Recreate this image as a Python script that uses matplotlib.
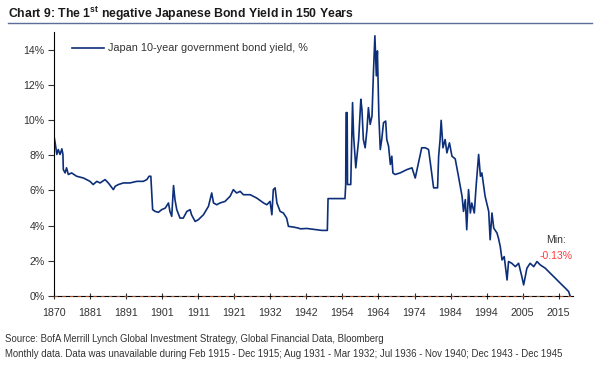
import matplotlib
matplotlib.use('Agg')
import matplotlib.pyplot as plt

# x positions are in tick-spacing units (the chart's axis is observation based)
years = ['1870', '1881', '1891', '1901', '1911', '1921', '1932', '1942',
         '1954', '1964', '1974', '1984', '1994', '2005', '2015']

pos = [0.00, 0.03, 0.07, 0.11, 0.16, 0.21, 0.24, 0.25, 0.30, 0.34, 0.39, 0.48,
       0.62, 0.81, 0.99, 1.08, 1.18, 1.27, 1.41, 1.50, 1.64, 1.69, 1.78, 1.92,
       2.10, 2.29, 2.47, 2.57, 2.63, 2.68, 2.73, 2.80, 2.89, 2.98, 3.08, 3.17,
       3.21, 3.26, 3.31, 3.35, 3.40, 3.49, 3.58, 3.68, 3.77, 3.81, 3.91, 4.00,
       4.14, 4.28, 4.37, 4.42, 4.51, 4.60, 4.74, 4.88, 4.97, 5.06, 5.16, 5.25,
       5.44, 5.62, 5.81, 5.90, 5.99, 6.04, 6.08, 6.13, 6.18, 6.27, 6.36, 6.45,
       6.50, 6.64, 6.78,
       6.83, 7.01, 7.43, 7.58, 7.60, 8.07, 8.09, 8.10, 8.13, 8.14, 8.23, 8.28,
       8.31, 8.37, 8.45, 8.51, 8.54, 8.58, 8.63, 8.68, 8.72, 8.77, 8.82, 8.86,
       8.90, 8.94, 8.97, 9.01, 9.05, 9.09, 9.14, 9.20, 9.23, 9.28, 9.33, 9.37,
       9.40, 9.46, 9.60, 9.79, 9.93, 10.02, 10.11, 10.20, 10.30, 10.39, 10.44,
       10.53, 10.64, 10.67, 10.71, 10.74, 10.79, 10.85, 10.90, 10.97, 11.04,
       11.13, 11.22, 11.32, 11.36, 11.41, 11.45, 11.50, 11.55, 11.59, 11.66,
       11.71, 11.78, 11.83, 11.87, 11.96, 12.06, 12.10, 12.15, 12.20, 12.29,
       12.33, 12.38, 12.43, 12.49, 12.57, 12.61, 12.70, 12.80, 12.89, 12.98,
       13.03, 13.12, 13.21, 13.31, 13.40, 13.49, 13.63, 13.77, 13.91, 14.05,
       14.19, 14.28, 14.34]

yld = [9.00, 8.62, 8.05, 8.33, 8.05, 8.37, 8.05, 7.19, 7.00, 7.29, 6.91, 7.00,
       6.81, 6.71, 6.52, 6.34, 6.52, 6.43, 6.62, 6.43, 6.05, 6.24, 6.34, 6.43,
       6.43, 6.52, 6.52, 6.62, 6.81, 6.81, 4.91, 4.81, 4.76, 4.91, 5.00, 5.29,
       4.81, 4.53, 6.28, 5.48, 4.91, 4.43, 4.43, 4.81, 4.91, 4.62, 4.24, 4.34,
       4.62, 5.10, 5.86, 5.29, 5.19, 5.29, 5.38, 5.67, 6.05, 5.86, 5.95, 5.76,
       5.76, 5.57, 5.29, 5.19, 5.38, 4.62, 6.05, 6.15, 5.29, 4.81, 4.72, 4.43,
       3.96, 3.92, 3.86,
       3.82, 3.84, 3.73, 3.73, 5.54, 5.54, 6.34, 10.43, 10.43, 6.34, 6.34, 11.00,
       9.09, 7.29, 8.90, 11.19, 10.62, 8.90, 8.43, 9.47, 10.71, 9.76, 10.24, 12.71,
       14.80, 12.52, 13.94, 10.24, 8.33, 8.90, 9.86, 9.95, 8.90, 8.52, 7.48, 7.95,
       7.00, 6.91, 7.00, 7.19, 7.29, 6.71, 7.57, 8.43, 8.43, 8.33, 7.57,
       6.15, 6.15, 7.95, 8.90, 9.99, 8.43, 8.90, 8.14, 8.71, 7.95,
       7.80, 6.81, 5.67, 4.81, 5.48, 3.77, 6.05, 4.72, 5.29, 4.72,
       6.24, 8.05, 6.81, 7.00, 5.67, 4.81, 3.20, 4.72, 3.86, 3.58,
       3.29, 2.82, 2.05, 2.24, 0.91, 1.96, 1.86, 1.67, 1.86, 1.10,
       0.63, 1.58, 1.86, 1.67, 1.96, 1.77, 1.58, 1.29, 1.01, 0.72,
       0.44, 0.25, -0.13]

y_ticks = [0, 2, 4, 6, 8, 10, 12, 14]

plt.rcParams['font.family'] = ['Liberation Sans', 'DejaVu Sans']
plt.rcParams['mathtext.fontset'] = 'custom'
plt.rcParams['mathtext.bf'] = 'Liberation Sans:bold'
plt.rcParams['mathtext.rm'] = 'Liberation Sans'

fig = plt.figure(figsize=(6, 3.68), dpi=100)
ax = fig.add_axes([0.0905, 0.1957, 0.8645, 0.7166])

ax.axhline(0, color='#a0522d', lw=0.8, ls=(0, (3, 4)), zorder=3, clip_on=False)
ax.plot(pos, yld, color='#0d2f7a', lw=1.2, zorder=2,
        label='Japan 10-year government bond yield, %')

ax.set_xlim(0, 14.4)
ax.set_ylim(0, 15)
ax.set_xticks(range(len(years)))
ax.set_xticklabels(years)
ax.set_yticks(y_ticks)
ax.set_yticklabels([f'{v}%' for v in y_ticks])
ax.tick_params(axis='y', direction='out', length=4, width=0.8,
               labelsize=7.7, colors='#333333', pad=3)
ax.tick_params(axis='x', direction='inout', length=5, width=0.8,
               labelsize=7.7, colors='#333333', pad=6)
for s in ['top', 'right']:
    ax.spines[s].set_visible(False)
for s in ['left', 'bottom']:
    ax.spines[s].set_color('#000000')
    ax.spines[s].set_linewidth(0.8)

leg = ax.legend(loc='upper left', bbox_to_anchor=(0.015, 0.995), frameon=False,
                fontsize=7.8, handlelength=3.0, handletextpad=0.3)
for t in leg.get_texts():
    t.set_color('#333333')

ax.text(13.94, 3.2, 'Min:', ha='center', va='center', fontsize=7.5, color='#333333')
ax.text(13.94, 2.3, '-0.13%', ha='center', va='center', fontsize=7.5, color='#ff3b3b')

fig.text(0.013, 0.952, r'Chart 9: The 1$^{\mathbf{st}}$ negative Japanese Bond Yield in 150 Years',
         fontsize=8.8, fontweight='bold', color='#1a1a1a',
         ha='left', va='baseline')
fig.add_artist(plt.Line2D([0.013, 0.987], [0.937, 0.937], color='#5a6e9a', lw=1.0))

fig.text(0.008, 0.078, 'Source: BofA Merrill Lynch Global Investment Strategy, Global Financial Data, Bloomberg',
         fontsize=6.9, color='#333333', va='center')
fig.text(0.008, 0.037, 'Monthly data. Data was unavailable during Feb 1915 - Dec 1915; Aug 1931 - Mar 1932; '
         'Jul 1936 - Nov 1940; Dec 1943 - Dec 1945',
         fontsize=6.9, color='#333333', va='center')

fig.savefig('out.png', dpi=100, facecolor='white')
